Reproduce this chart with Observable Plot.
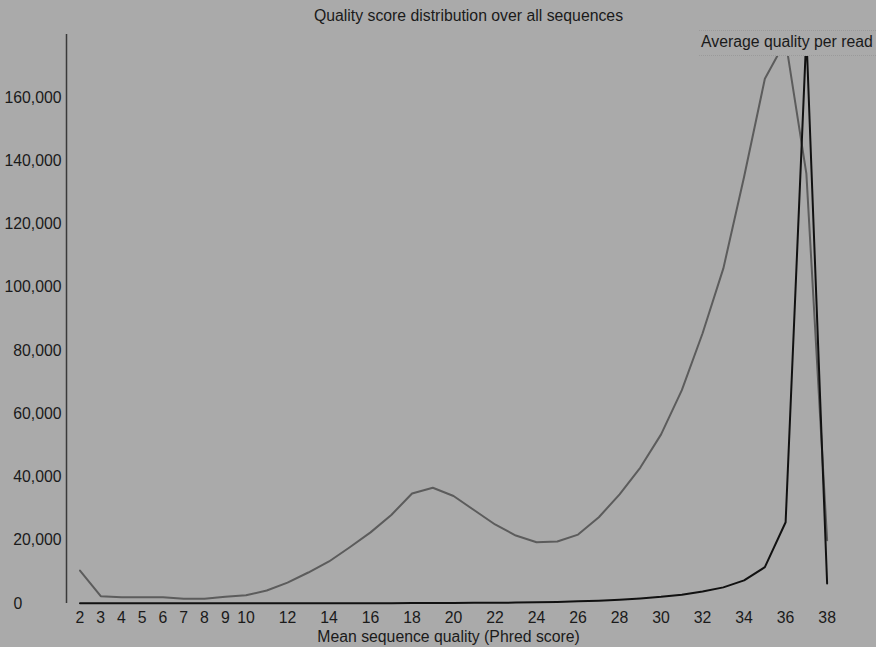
<!DOCTYPE html>
<html>
<head>
<meta charset="utf-8">
<script src="https://cdn.jsdelivr.net/npm/d3@7"></script>
<script src="https://cdn.jsdelivr.net/npm/@observablehq/plot@0.6"></script>
<style>
  html, body { margin: 0; padding: 0; background: #aaaaaa; }
  #wrap { position: relative; width: 876px; height: 647px; overflow: hidden; }
  #legend {
    position: absolute; left: 699px; top: 30px; width: 177px; height: 26px;
    background: #aaaaaa; border-top: 1px dotted #9a9a9a; border-bottom: 1px dotted #9a9a9a;
    font-family: "Liberation Sans", Arial, sans-serif; font-size: 15.8px; color: #1a1a1a;
    line-height: 22px; padding-left: 2px; box-sizing: border-box; white-space: nowrap;
  }
</style>
</head>
<body>
<div id="wrap"></div>
<script>
// ---- data ----
const quality = [2,3,4,5,6,7,8,9,10,11,12,13,14,15,16,17,18,19,20,21,22,23,24,25,26,27,28,29,30,31,32,33,34,35,36,37,38];
const readsGray = [10400,2300,2000,2000,2000,1500,1500,2100,2600,4100,6600,9800,13300,17800,22500,28000,34800,36600,34000,29500,25000,21500,19400,19600,21800,27300,34500,43000,53500,67500,85500,106000,135000,166000,178000,136000,20000];
const readsBlack = [100,100,100,100,100,100,100,100,100,100,100,100,100,100,100,100,150,150,150,200,200,300,400,500,700,900,1200,1600,2100,2800,3800,5100,7300,11500,25700,180000,6300];
const xTickValues = [2,3,4,5,6,7,8,9,10,12,14,16,18,20,22,24,26,28,30,32,34,36,38];
const yTickValues = [0,20000,40000,60000,80000,100000,120000,140000,160000];
const titleText = "Quality score distribution over all sequences";
const xLabelText = "Mean sequence quality (Phred score)";
const legendText = "Average quality per read";

const xDomain = [1.35, 38.5];
const yDomain = [0, 180000];

const rows = quality.map((q, i) => ({q, gray: readsGray[i], black: readsBlack[i]}));

const chart = Plot.plot({
  width: 876,
  height: 647,
  marginLeft: 66,
  marginRight: 39,
  marginTop: 34,
  marginBottom: 44,
  style: {background: "#aaaaaa", fontFamily: "'Liberation Sans', Arial, sans-serif", fontSize: "15.8px", color: "#1a1a1a"},
  x: {domain: xDomain},
  y: {domain: yDomain},
  marks: [
    Plot.ruleX([xDomain[0]], {y1: yDomain[0], y2: yDomain[1], stroke: "#3a3a3a", strokeWidth: 1.5}),
    Plot.axisX({ticks: xTickValues, tickSize: 0, tickPadding: 8, label: null, tickFormat: d => String(d)}),
    Plot.axisY({ticks: yTickValues.filter(d => d > 0), tickSize: 0, tickPadding: 5, label: null, tickFormat: d3.format(",")}),
    Plot.axisY({ticks: [0], tickSize: 0, tickPadding: 5, label: null, textAnchor: "start", dx: -48, tickFormat: d => String(d)}),
    Plot.line(rows, {x: "q", y: "gray", stroke: "#5c5c5c", strokeWidth: 2}),
    Plot.line(rows, {x: "q", y: "black", stroke: "#111111", strokeWidth: 2}),
    Plot.text([titleText], {text: d => d, frameAnchor: "top", dx: 16.5, dy: -19, lineAnchor: "middle", fill: "#1a1a1a"}),
    Plot.text([xLabelText], {text: d => d, frameAnchor: "bottom", dx: -3.5, dy: 33.5, lineAnchor: "middle", fill: "#1a1a1a"})
  ]
});

const wrap = document.getElementById("wrap");
wrap.appendChild(chart);
const legend = document.createElement("div");
legend.id = "legend";
legend.textContent = legendText;
wrap.appendChild(legend);
</script>
</body>
</html>
